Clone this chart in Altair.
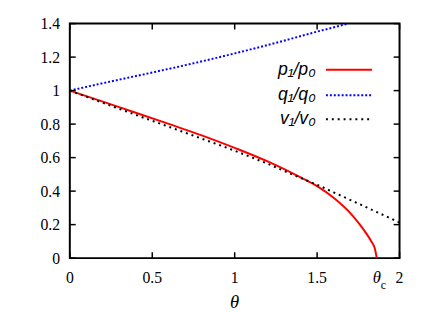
import altair as alt
import pandas as pd

# ---- data ----
theta_p = [0, 0.2, 0.4, 0.6, 0.8, 1.0, 1.2, 1.4, 1.5, 1.6, 1.7, 1.75, 1.8, 1.83, 1.85, 1.862]
p_ratio = [1.0, 0.934, 0.868, 0.801, 0.733, 0.658, 0.577, 0.482, 0.43, 0.36, 0.27, 0.212, 0.145, 0.098, 0.058, 0.0]

theta_q = [0, 0.25, 0.5, 0.75, 1.0, 1.25, 1.5, 1.69]
q_ratio = [1.0, 1.055, 1.108, 1.163, 1.222, 1.285, 1.352, 1.40]

theta_v = [0, 0.2, 0.4, 0.6, 0.8, 1.0, 1.2, 1.4, 1.5, 1.6, 1.7, 1.8, 1.9, 2.0]
v_ratio = [1.0, 0.927, 0.855, 0.784, 0.713, 0.641, 0.563, 0.478, 0.438, 0.393, 0.348, 0.303, 0.258, 0.212]

theta_c = [1.862]

x_ticks = [0, 0.5, 1, 1.5, 2]
x_labels = ["0", "0.5", "1", "1.5", "2"]
y_ticks = [0, 0.2, 0.4, 0.6, 0.8, 1.0, 1.2, 1.4]
y_labels = ["0", "0.2", "0.4", "0.6", "0.8", "1", "1.2", "1.4"]

x_title = ["θ"]
x_title_pos = [1.0]

W, H = 336, 239
TICK = 6
SERIF = "Liberation Serif"
SANS = "Liberation Sans"

dp = pd.DataFrame({"theta": theta_p, "val": p_ratio})
dq = pd.DataFrame({"theta": theta_q, "val": q_ratio})
dv = pd.DataFrame({"theta": theta_v, "val": v_ratio})
dc = pd.DataFrame({"theta": theta_c})
dxt = pd.DataFrame({"theta": x_ticks, "lab": x_labels})
dyt = pd.DataFrame({"val": y_ticks, "lab": y_labels})
dxtitle = pd.DataFrame({"theta": x_title_pos, "lab": x_title})

xs = alt.Scale(domain=[0, 2], nice=False)
ys = alt.Scale(domain=[0, 1.4], nice=False)
X = alt.X("theta:Q", scale=xs, axis=None)
Y = alt.Y("val:Q", scale=ys, axis=None)

red = alt.Chart(dp).mark_line(color="#ff0000", strokeWidth=2, clip=True,
                              interpolate="monotone").encode(x=X, y=Y)
blue = alt.Chart(dq).mark_line(color="#0000ff", strokeWidth=2, strokeDash=[2, 2],
                               clip=True, interpolate="monotone").encode(x=X, y=Y)
black = alt.Chart(dv).mark_line(color="black", strokeWidth=2, strokeDash=[2, 4],
                                clip=True, interpolate="monotone").encode(x=X, y=Y)

# inward ticks on all four sides
tick_style = dict(color="black", strokeWidth=1.5)
xt_bottom = alt.Chart(dxt).mark_rule(**tick_style).encode(
    x=X, y=alt.value(H), y2=alt.value(H - TICK))
xt_top = alt.Chart(dxt).mark_rule(**tick_style).encode(
    x=X, y=alt.value(0), y2=alt.value(TICK))
yt_left = alt.Chart(dyt).mark_rule(**tick_style).encode(
    y=Y, x=alt.value(0), x2=alt.value(TICK))
yt_right = alt.Chart(dyt).mark_rule(**tick_style).encode(
    y=Y, x=alt.value(W - TICK), x2=alt.value(W))

# tick labels
xl = alt.Chart(dxt).mark_text(font=SERIF, fontSize=16, align="center",
                              baseline="alphabetic", color="black").encode(
    x=X, y=alt.value(H + 25), text="lab:N")
yl = alt.Chart(dyt).mark_text(font=SERIF, fontSize=16, align="right",
                              baseline="alphabetic", dy=5.5, color="black").encode(
    y=Y, x=alt.value(-10), text="lab:N")
xtitle = alt.Chart(dxtitle).mark_text(font=SERIF, fontSize=19, fontStyle="italic",
                                      align="center", baseline="alphabetic",
                                      color="black").encode(
    x=X, y=alt.value(H + 51), text="lab:N")

# theta_c label
tc1 = alt.Chart(dc).mark_text(font=SERIF, fontStyle="italic", fontSize=17,
                              baseline="alphabetic", align="center", color="black").encode(
    x=X, y=alt.value(H + 25), text=alt.value("θ"))
tc2 = alt.Chart(dc).mark_text(font=SERIF, fontSize=12, baseline="alphabetic",
                              align="left", dx=4, color="black").encode(
    x=X, y=alt.value(H + 31), text=alt.value("c"))

# manual legend (label left of sample line)
leg_names = ["p₁/p₀", "q₁/q₀", "v₁/v₀"]
leg_rows = [47, 73, 97.5]
legend_layers = []
styles = [dict(color="#ff0000"), dict(color="#0000ff", strokeDash=[2, 2]),
          dict(color="black", strokeDash=[2, 4])]
for name, yy, st in zip(leg_names, leg_rows, styles):
    legend_layers.append(
        alt.Chart(dc).mark_text(font=SANS, fontStyle="italic", fontSize=18,
                                align="right", baseline="middle", color="black").encode(
            x=alt.value(250.5), y=alt.value(yy), text=alt.value(name)))
    legend_layers.append(
        alt.Chart(dc).mark_rule(strokeWidth=2, **st).encode(
            x=alt.value(261), x2=alt.value(308), y=alt.value(yy)))

chart = alt.layer(red, blue, black, xt_bottom, xt_top, yt_left, yt_right,
                  xl, yl, xtitle, tc1, tc2, *legend_layers).properties(
    width=W, height=H,
    padding={"left": 63, "top": 13, "right": 29, "bottom": 52},
    autosize=alt.AutoSizeParams(type="none"),
    background="white",
).configure_view(stroke="black", strokeWidth=2)

chart.save("out.html", embed_options={"renderer": "svg", "actions": False})
